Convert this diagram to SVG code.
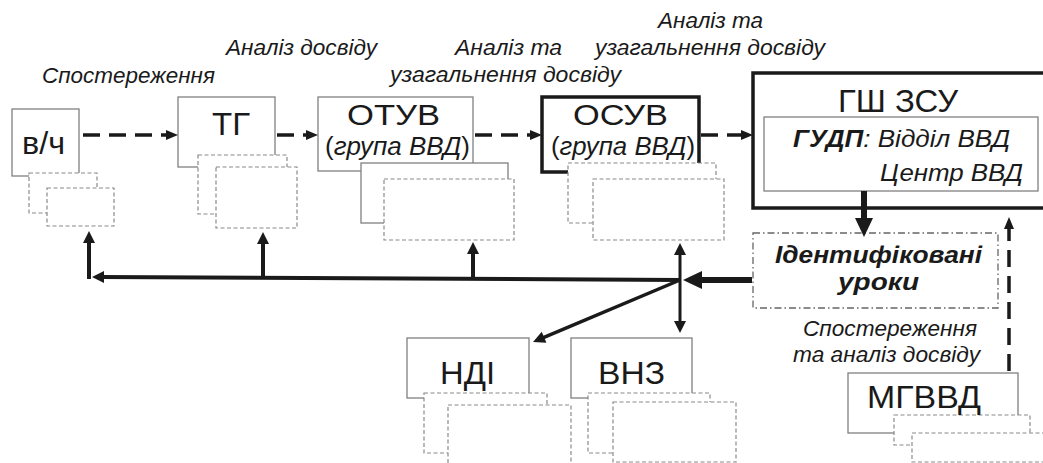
<svg xmlns="http://www.w3.org/2000/svg" width="1043" height="463" viewBox="0 0 1043 463">
<style>
text{font-family:"Liberation Sans",Arial,sans-serif;fill:#1a1a1a}
.big{font-size:32px}
.mid{font-size:30px}
.it{font-style:italic;font-size:22px}
.sub{font-size:25px}
.inn{font-size:23px;font-style:italic}
.bi{font-weight:bold;font-style:italic;font-size:23px}
.box{fill:#fff;stroke:#808080;stroke-width:1.3}
.dbox{fill:#fff;stroke:#8a8a8a;stroke-width:1.2;stroke-dasharray:4 2.5}
.tbox{fill:#fff;stroke:#1a1a1a;stroke-width:3.5}
.ddbox{fill:#fff;stroke:#666;stroke-width:1.3;stroke-dasharray:7 3 1.5 3}
.dash{fill:none;stroke:#1a1a1a;stroke-width:3.5;stroke-dasharray:17 9}
.ln{fill:none;stroke:#1a1a1a;stroke-width:4}
.thk{fill:none;stroke:#1a1a1a;stroke-width:6}
</style>
<defs>
<marker id="ms" markerUnits="userSpaceOnUse" markerWidth="12" markerHeight="10" refX="6" refY="5" orient="auto" overflow="visible"><path d="M0,0 L12,5 L0,10 z" fill="#1a1a1a"/></marker>
<marker id="mm" markerUnits="userSpaceOnUse" markerWidth="12" markerHeight="12" refX="4" refY="6" orient="auto-start-reverse" overflow="visible"><path d="M0,0 L12,6 L0,12 z" fill="#1a1a1a"/></marker>
<marker id="mb" markerUnits="userSpaceOnUse" markerWidth="19" markerHeight="18" refX="6" refY="9" orient="auto" overflow="visible"><path d="M0,0 L19,9 L0,18 z" fill="#1a1a1a"/></marker>
</defs>

<g id="labels">
<text class="it" x="42" y="83" textLength="173" lengthAdjust="spacingAndGlyphs">Спостереження</text>
<text class="it" x="226" y="55" textLength="151" lengthAdjust="spacingAndGlyphs">Аналіз досвіду</text>
<text class="it" x="455" y="55" textLength="107" lengthAdjust="spacingAndGlyphs">Аналіз та</text>
<text class="it" x="390" y="82" textLength="231" lengthAdjust="spacingAndGlyphs">узагальнення досвіду</text>
<text class="it" x="658" y="28" textLength="105" lengthAdjust="spacingAndGlyphs">Аналіз та</text>
<text class="it" x="595" y="55" textLength="230" lengthAdjust="spacingAndGlyphs">узагальнення досвіду</text>
<text class="it" x="803" y="336" textLength="174" lengthAdjust="spacingAndGlyphs">Спостереження</text>
<text class="it" x="793" y="362" textLength="187" lengthAdjust="spacingAndGlyphs">та аналіз досвіду</text>
</g>

<g id="node-vch">
<rect class="box" x="12" y="109" width="67" height="67"/>
<rect class="dbox" x="29" y="173" width="68" height="40"/>
<rect class="dbox" x="47" y="188" width="67" height="38"/>
<text class="big" x="22" y="154" textLength="43" lengthAdjust="spacingAndGlyphs">в/ч</text>
</g>

<g id="node-tg">
<rect class="box" x="178" y="97" width="97" height="70"/>
<rect class="dbox" x="198" y="155" width="89" height="59"/>
<rect class="dbox" x="216" y="167" width="81" height="61"/>
<text class="big" x="212" y="135" textLength="38" lengthAdjust="spacingAndGlyphs">ТГ</text>
</g>

<g id="node-otuv">
<rect class="box" x="318" y="97" width="155" height="74"/>
<rect class="box" x="361" y="163" width="147" height="60"/>
<rect class="dbox" x="384" y="179" width="130" height="61"/>
<text class="mid" x="347" y="125" textLength="93" lengthAdjust="spacingAndGlyphs">ОТУВ</text>
<text class="sub" x="325" y="155" textLength="145" lengthAdjust="spacingAndGlyphs">(<tspan font-style="italic">група ВВД</tspan>)</text>
</g>

<g id="node-osuv">
<rect class="tbox" x="542" y="97" width="157" height="75"/>
<rect class="dbox" x="568" y="163" width="148" height="60"/>
<rect class="dbox" x="593" y="179" width="131" height="61"/>
<text class="mid" x="573" y="125" textLength="95" lengthAdjust="spacingAndGlyphs">ОСУВ</text>
<text class="sub" x="551" y="155" textLength="144" lengthAdjust="spacingAndGlyphs">(<tspan font-style="italic">група ВВД</tspan>)</text>
</g>

<g id="node-gsh">
<rect class="tbox" x="753" y="73" width="300" height="135"/>
<rect class="box" x="764" y="117" width="274" height="74"/>
<text class="big" x="838" y="112" textLength="120" lengthAdjust="spacingAndGlyphs">ГШ ЗСУ</text>
<text x="793" y="147" textLength="217" lengthAdjust="spacingAndGlyphs"><tspan class="bi">ГУДП</tspan><tspan class="inn">: Відділ ВВД</tspan></text>
<text class="inn" x="880" y="181" textLength="143" lengthAdjust="spacingAndGlyphs">Центр ВВД</text>
</g>

<g id="node-lessons">
<rect class="ddbox" x="753" y="233" width="245" height="75"/>
<text class="bi" x="775" y="263" textLength="207" lengthAdjust="spacingAndGlyphs">Ідентифіковані</text>
<text class="bi" x="838" y="290" textLength="81" lengthAdjust="spacingAndGlyphs">уроки</text>
</g>

<g id="node-ndi">
<rect class="box" x="407" y="338" width="122" height="60"/>
<rect class="dbox" x="424" y="393" width="123" height="60"/>
<rect class="dbox" x="448" y="405" width="123" height="62"/>
<text class="big" x="440" y="384" textLength="55" lengthAdjust="spacingAndGlyphs">НДІ</text>
</g>

<g id="node-vnz">
<rect class="box" x="571" y="338" width="121" height="60"/>
<rect class="dbox" x="588" y="393" width="122" height="60"/>
<rect class="dbox" x="613" y="402" width="123" height="60"/>
<text class="big" x="598" y="384" textLength="67" lengthAdjust="spacingAndGlyphs">ВНЗ</text>
</g>

<g id="node-mgvvd">
<rect class="box" x="848" y="373" width="170" height="60"/>
<rect class="dbox" x="894" y="415" width="136" height="30"/>
<rect class="dbox" x="912" y="433" width="140" height="29"/>
<text class="big" x="867" y="408" textLength="114" lengthAdjust="spacingAndGlyphs">МГВВД</text>
</g>

<g id="connectors">
<line class="dash" x1="83" y1="135" x2="172" y2="135" marker-end="url(#ms)"/>
<line class="dash" x1="277" y1="135" x2="312" y2="135" marker-end="url(#ms)"/>
<line class="dash" x1="475" y1="135" x2="536" y2="135" marker-end="url(#ms)"/>
<line class="dash" x1="701" y1="135" x2="747" y2="135" marker-end="url(#ms)"/>
<line class="dash" x1="1009" y1="371" x2="1009" y2="223" marker-end="url(#ms)"/>
<line class="thk" x1="864" y1="191" x2="864" y2="224" marker-end="url(#mb)"/>
<line class="thk" x1="752" y1="280" x2="696" y2="280" marker-end="url(#mb)"/>
<line class="ln" x1="681" y1="280" x2="100" y2="277" marker-end="url(#mm)"/>
<line class="ln" x1="89" y1="279" x2="89" y2="239" marker-end="url(#mm)"/>
<line class="ln" x1="263" y1="278" x2="263" y2="240" marker-end="url(#mm)"/>
<line class="ln" x1="473" y1="279" x2="473" y2="250" marker-end="url(#mm)"/>
<line class="ln" style="stroke-width:3" x1="680" y1="325" x2="680" y2="251" marker-start="url(#mm)" marker-end="url(#mm)"/>
<line class="ln" style="stroke-width:3.5" x1="680" y1="280" x2="540.4" y2="338.9" marker-end="url(#mm)"/>
</g>
</svg>
